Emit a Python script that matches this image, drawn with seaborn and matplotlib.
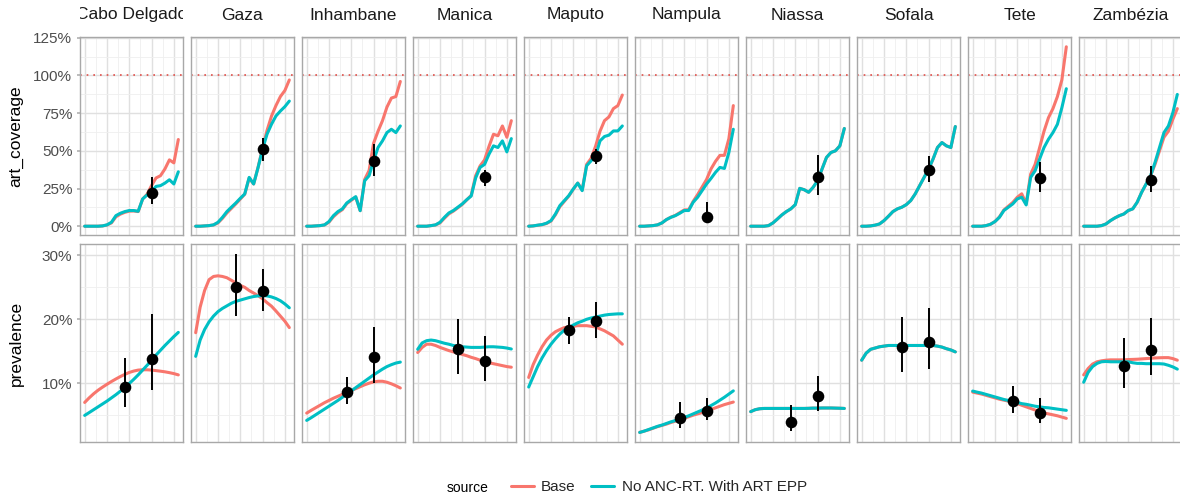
import matplotlib
matplotlib.use("Agg")
import matplotlib.pyplot as plt
import pandas as pd
import seaborn as sns
from matplotlib.lines import Line2D
from matplotlib.ticker import FuncFormatter, MultipleLocator
from matplotlib.transforms import Bbox, TransformedBbox

# Anos e províncias
years = [2000, 2001, 2002, 2003, 2004, 2005, 2006, 2007, 2008, 2009, 2010,
         2011, 2012, 2013, 2014, 2015, 2016, 2017, 2018, 2019, 2020, 2021]
provinces = ['Cabo Delgado', 'Gaza', 'Inhambane', 'Manica', 'Maputo',
             'Nampula', 'Niassa', 'Sofala', 'Tete', 'Zambézia']
sources = ['Base', 'No ANC-RT. With ART EPP']

# art_coverage (%)
cabo_art_base = [0, 0, 0, 0, 0.2, 0.8, 2.2, 6.2, 8.0, 9.2, 10.0, 10.1, 9.7, 18.0, 21.2, 27.0, 32.0, 33.5, 38.0, 44.0, 42.0, 57.5]
cabo_art_alt = [0, 0, 0, 0, 0.2, 0.9, 2.6, 7.0, 8.6, 9.7, 10.4, 10.4, 9.9, 18.1, 20.7, 22.9, 26.4, 26.9, 28.6, 30.8, 28.0, 36.1]
gaza_art_base = [0, 0, 0.2, 0.4, 0.8, 2.2, 5.2, 8.8, 11.8, 14.8, 18.0, 21.2, 32.0, 28.0, 39.2, 51.8, 63.5, 73.0, 80.0, 86.0, 90.0, 97.0]
gaza_art_alt = [0, 0, 0.2, 0.4, 0.9, 2.6, 5.9, 9.7, 12.6, 15.4, 18.5, 21.4, 32.4, 28.0, 39.0, 51.1, 61.0, 67.6, 73.1, 76.4, 79.3, 83.0]
inha_art_base = [0, 0, 0.2, 0.4, 0.8, 2.7, 6.3, 9.0, 11.0, 15.0, 17.2, 19.3, 10.3, 31.0, 37.0, 55.0, 63.0, 70.0, 79.0, 85.0, 86.0, 96.0]
inha_art_alt = [0, 0, 0.2, 0.4, 0.9, 3.1, 7.0, 9.7, 11.5, 15.4, 17.6, 19.6, 10.3, 30.1, 33.5, 43.4, 52.2, 56.6, 62.1, 64.3, 62.1, 66.5]
mani_art_base = [0, 0, 0, 0.4, 0.8, 2.2, 5.3, 8.2, 10.0, 12.2, 14.5, 17.4, 20.5, 33.5, 40.0, 44.0, 53.0, 61.0, 60.0, 66.5, 59.0, 70.0]
mani_art_alt = [0, 0, 0, 0.4, 0.9, 2.6, 5.9, 8.8, 10.4, 12.6, 14.8, 17.6, 20.0, 32.0, 39.0, 41.0, 47.8, 53.3, 52.2, 56.6, 49.3, 58.1]
mapu_art_base = [0, 0.2, 0.6, 1.0, 1.8, 3.4, 7.6, 13.0, 16.5, 20.0, 24.5, 28.6, 24.0, 41.0, 45.0, 53.0, 63.0, 70.0, 72.5, 78.0, 80.0, 87.0]
mapu_art_alt = [0, 0.2, 0.7, 1.1, 2.0, 3.7, 8.1, 13.7, 17.0, 20.3, 24.7, 28.6, 23.6, 40.1, 43.4, 46.7, 56.6, 59.5, 60.4, 63.2, 63.2, 66.5]
namp_art_base = [0, 0, 0.2, 0.4, 0.9, 2.2, 4.4, 6.0, 7.2, 9.0, 10.8, 11.0, 16.5, 21.0, 26.0, 31.0, 38.0, 43.0, 47.0, 47.0, 58.0, 80.0]
namp_art_alt = [0, 0, 0.2, 0.4, 0.9, 2.2, 4.4, 5.9, 7.0, 8.6, 10.4, 10.4, 15.9, 19.2, 23.6, 28.0, 31.7, 35.7, 39.0, 38.3, 48.9, 64.3]
nias_art_base = [0, 0, 0, 0, 0.4, 2.2, 4.8, 7.5, 9.7, 11.5, 14.3, 25.1, 24.2, 22.5, 25.8, 30.2, 37.9, 45.6, 48.9, 50.0, 53.3, 64.8]
nias_art_alt = [0, 0, 0, 0, 0.4, 2.2, 4.8, 7.5, 9.7, 11.5, 14.3, 25.1, 24.2, 22.5, 25.8, 30.2, 37.9, 45.6, 48.9, 50.0, 53.3, 64.8]
sofa_art_base = [0, 0, 0.2, 0.7, 1.5, 3.7, 6.6, 9.7, 11.5, 12.6, 14.3, 17.0, 21.4, 26.9, 32.4, 37.9, 44.5, 52.2, 55.5, 53.3, 52.2, 66.1]
sofa_art_alt = [0, 0, 0.2, 0.7, 1.5, 3.7, 6.6, 9.7, 11.5, 12.6, 14.3, 17.0, 21.4, 26.9, 32.4, 37.9, 44.5, 52.2, 55.5, 53.3, 52.2, 66.1]
tete_art_base = [0, 0, 0, 0.4, 1.3, 3.1, 6.2, 10.8, 13.3, 15.8, 19.2, 21.5, 15.0, 34.5, 41.0, 52.0, 63.0, 72.0, 78.0, 86.0, 97.0, 119.0]
tete_art_alt = [0, 0, 0, 0.4, 1.3, 3.1, 5.9, 10.4, 12.6, 14.8, 18.1, 19.2, 14.1, 32.4, 36.8, 44.5, 52.2, 57.7, 62.1, 67.6, 78.6, 91.2]
zamb_art_base = [0, 0, 0, 0, 0.4, 1.5, 3.7, 5.5, 7.0, 8.1, 10.4, 11.5, 15.9, 22.5, 28.0, 33.5, 41.0, 50.0, 59.0, 63.0, 71.0, 78.0]
zamb_art_alt = [0, 0, 0, 0, 0.4, 1.5, 3.7, 5.5, 7.0, 8.1, 10.4, 11.5, 15.9, 22.5, 28.0, 33.5, 42.3, 52.2, 62.1, 66.5, 75.3, 87.4]

# prevalence (%)
cabo_prev_base = [6.99, 7.7, 8.34, 8.9, 9.38, 9.83, 10.26, 10.66, 11.04, 11.38, 11.68, 11.9, 12.05, 12.1, 12.1, 12.05, 11.97, 11.88, 11.78, 11.65, 11.5, 11.3]
cabo_prev_alt = [4.96, 5.4, 5.85, 6.3, 6.75, 7.2, 7.7, 8.2, 8.75, 9.3, 9.95, 10.6, 11.3, 12.05, 12.8, 13.6, 14.4, 15.15, 15.9, 16.6, 17.3, 17.95]
gaza_prev_base = [17.9, 21.9, 24.5, 26.2, 26.7, 26.8, 26.7, 26.5, 26.1, 25.7, 25.3, 25.0, 24.5, 24.1, 23.7, 23.2, 22.6, 22.05, 21.3, 20.5, 19.7, 18.7]
gaza_prev_alt = [14.2, 16.75, 18.4, 19.6, 20.5, 21.2, 21.7, 22.1, 22.5, 22.8, 23.0, 23.2, 23.4, 23.56, 23.66, 23.7, 23.66, 23.5, 23.25, 22.9, 22.4, 21.8]
inha_prev_base = [5.32, 5.75, 6.15, 6.55, 6.95, 7.3, 7.65, 7.95, 8.25, 8.55, 8.85, 9.15, 9.45, 9.75, 10.0, 10.2, 10.3, 10.3, 10.15, 9.9, 9.6, 9.25]
inha_prev_alt = [4.18, 4.6, 5.05, 5.5, 5.95, 6.4, 6.85, 7.3, 7.8, 8.3, 8.8, 9.3, 9.8, 10.3, 10.8, 11.3, 11.75, 12.2, 12.6, 12.9, 13.15, 13.3]
mani_prev_base = [14.8, 15.6, 16.1, 16.1, 15.9, 15.6, 15.35, 15.1, 14.9, 14.7, 14.5, 14.3, 14.05, 13.85, 13.6, 13.4, 13.2, 13.05, 12.9, 12.75, 12.6, 12.5]
mani_prev_alt = [15.3, 16.3, 16.65, 16.75, 16.65, 16.45, 16.25, 16.1, 15.9, 15.8, 15.7, 15.65, 15.6, 15.6, 15.6, 15.65, 15.7, 15.7, 15.65, 15.6, 15.5, 15.35]
mapu_prev_base = [10.9, 12.9, 14.4, 15.7, 16.75, 17.5, 18.05, 18.4, 18.7, 18.8, 18.9, 19.0, 19.0, 19.0, 18.9, 18.8, 18.5, 18.2, 17.8, 17.4, 16.75, 16.1]
mapu_prev_alt = [9.4, 11.0, 12.6, 13.95, 15.1, 16.1, 16.95, 17.7, 18.3, 18.7, 19.1, 19.45, 19.7, 20.0, 20.2, 20.35, 20.5, 20.65, 20.75, 20.8, 20.85, 20.85]
namp_prev_base = [2.3, 2.5, 2.7, 2.95, 3.2, 3.4, 3.6, 3.85, 4.05, 4.3, 4.5, 4.75, 5.0, 5.2, 5.4, 5.65, 5.9, 6.15, 6.4, 6.65, 6.85, 7.05]
namp_prev_alt = [2.3, 2.5, 2.75, 3.0, 3.25, 3.45, 3.7, 3.95, 4.15, 4.4, 4.65, 4.9, 5.2, 5.5, 5.8, 6.1, 6.5, 6.9, 7.35, 7.8, 8.3, 8.8]
nias_prev_base = [5.55, 5.85, 6.0, 6.05, 6.05, 6.05, 6.05, 6.05, 6.05, 6.05, 6.05, 6.05, 6.05, 6.07, 6.1, 6.1, 6.12, 6.12, 6.12, 6.1, 6.08, 6.05]
nias_prev_alt = [5.55, 5.85, 6.0, 6.05, 6.05, 6.05, 6.05, 6.05, 6.05, 6.05, 6.05, 6.05, 6.05, 6.07, 6.1, 6.1, 6.12, 6.12, 6.12, 6.1, 6.08, 6.05]
sofa_prev_base = [13.6, 14.7, 15.3, 15.5, 15.7, 15.8, 15.9, 15.9, 15.9, 15.9, 15.9, 15.9, 15.9, 15.9, 15.9, 15.9, 15.9, 15.8, 15.65, 15.4, 15.2, 14.9]
sofa_prev_alt = [13.6, 14.7, 15.3, 15.5, 15.7, 15.8, 15.9, 15.9, 15.9, 15.9, 15.9, 15.9, 15.9, 15.9, 15.9, 15.9, 15.9, 15.8, 15.65, 15.4, 15.2, 14.9]
tete_prev_base = [8.6, 8.45, 8.3, 8.1, 7.9, 7.7, 7.5, 7.35, 7.2, 7.0, 6.8, 6.55, 6.3, 6.05, 5.8, 5.55, 5.35, 5.2, 5.05, 4.9, 4.7, 4.5]
tete_prev_alt = [8.77, 8.6, 8.45, 8.25, 8.05, 7.85, 7.65, 7.45, 7.3, 7.2, 7.0, 6.8, 6.7, 6.55, 6.4, 6.3, 6.2, 6.15, 6.05, 5.95, 5.85, 5.75]
zamb_prev_base = [11.3, 12.3, 13.0, 13.35, 13.5, 13.6, 13.65, 13.65, 13.65, 13.65, 13.7, 13.72, 13.75, 13.8, 13.85, 13.9, 13.95, 13.98, 14.0, 14.0, 13.85, 13.6]
zamb_prev_alt = [10.15, 11.7, 12.6, 13.1, 13.35, 13.4, 13.35, 13.35, 13.35, 13.35, 13.35, 13.2, 13.1, 13.1, 13.05, 13.05, 13.05, 13.05, 13.0, 12.8, 12.55, 12.2]

# Pontos de inquérito (%)
art_survey_year = 2015
art_survey_mid = [22.0, 51.5, 43.0, 32.6, 46.7, 5.9, 32.4, 37.4, 31.7, 30.8]
art_survey_lo = [14.8, 43.4, 33.0, 27.0, 41.0, 3.1, 20.7, 29.1, 22.5, 22.5]
art_survey_hi = [32.4, 58.8, 54.4, 37.0, 51.0, 16.3, 47.1, 46.3, 42.7, 40.0]
prev_2009_mid = [9.38, 25.06, 8.6, 15.3, 18.3, 4.55, 3.95, 15.6, 7.2, 12.7]
prev_2009_lo = [6.26, 20.5, 6.8, 11.45, 16.2, 3.0, 2.46, 11.8, 5.3, 9.3]
prev_2009_hi = [13.9, 30.26, 10.9, 20.1, 20.4, 7.0, 6.56, 20.3, 9.55, 17.1]
prev_2015_mid = [13.8, 24.5, 14.05, 13.5, 19.8, 5.7, 7.95, 16.4, 5.4, 15.2]
prev_2015_lo = [8.86, 21.3, 10.0, 10.35, 17.0, 4.3, 5.6, 12.2, 3.75, 11.3]
prev_2015_hi = [20.8, 27.9, 18.8, 17.4, 22.7, 7.7, 11.2, 21.7, 7.7, 20.15]

art_base = [cabo_art_base, gaza_art_base, inha_art_base, mani_art_base, mapu_art_base,
            namp_art_base, nias_art_base, sofa_art_base, tete_art_base, zamb_art_base]
art_alt = [cabo_art_alt, gaza_art_alt, inha_art_alt, mani_art_alt, mapu_art_alt,
           namp_art_alt, nias_art_alt, sofa_art_alt, tete_art_alt, zamb_art_alt]
prev_base = [cabo_prev_base, gaza_prev_base, inha_prev_base, mani_prev_base, mapu_prev_base,
             namp_prev_base, nias_prev_base, sofa_prev_base, tete_prev_base, zamb_prev_base]
prev_alt = [cabo_prev_alt, gaza_prev_alt, inha_prev_alt, mani_prev_alt, mapu_prev_alt,
            namp_prev_alt, nias_prev_alt, sofa_prev_alt, tete_prev_alt, zamb_prev_alt]

# Tabela longa
linhas = []
for i, prov in enumerate(provinces):
    for ind, b_list, a_list in [('art_coverage', art_base[i], art_alt[i]),
                                ('prevalence', prev_base[i], prev_alt[i])]:
        for yr, b, a in zip(years, b_list, a_list):
            linhas.append((prov, ind, sources[0], yr, b))
            linhas.append((prov, ind, sources[1], yr, a))
base = pd.DataFrame(linhas, columns=['province', 'indicator', 'source', 'year', 'value'])

red = '#F8766D'
teal = '#00BFC4'

sns.set_theme(style='white')
plt.rcParams['font.family'] = ['Liberation Sans', 'DejaVu Sans']

fig, axes = plt.subplots(2, 10, figsize=(11.8, 4.95), dpi=100, sharex=True, sharey='row')
fig.subplots_adjust(left=80 / 1180, right=1182 / 1180, top=1 - 37 / 495, bottom=1 - 442 / 495,
                    wspace=0.0777, hspace=0.0506)

pct = FuncFormatter(lambda v, p: f'{v:.0f}%')

for r, ind in enumerate(['art_coverage', 'prevalence']):
    for c, prov in enumerate(provinces):
        ax = axes[r, c]
        d = base[(base['province'] == prov) & (base['indicator'] == ind)]
        ax.set_axisbelow(True)
        if r == 0:
            ax.axhline(100, color='#E0504A', lw=1.2, ls=(0, (1, 3)), zorder=1)
        sns.lineplot(data=d, x='year', y='value', hue='source', hue_order=sources,
                     palette=[red, teal], linewidth=2.2, legend=False, errorbar=None,
                     ax=ax, zorder=3)
        if r == 0:
            xs = [art_survey_year]
            mid = [art_survey_mid[c]]
            lo = [art_survey_lo[c]]
            hi = [art_survey_hi[c]]
        else:
            xs = [2009, 2015]
            mid = [prev_2009_mid[c], prev_2015_mid[c]]
            lo = [prev_2009_lo[c], prev_2015_lo[c]]
            hi = [prev_2009_hi[c], prev_2015_hi[c]]
        ax.vlines(xs, lo, hi, color='black', lw=1.4, zorder=4)
        sns.scatterplot(x=xs, y=mid, color='black', s=70, edgecolor='black', linewidth=0,
                        ax=ax, zorder=5)

        ax.set_xlim(1998.95, 2022.05)
        ax.xaxis.set_major_locator(MultipleLocator(5))
        ax.xaxis.set_minor_locator(MultipleLocator(2.5))
        if r == 0:
            ax.set_ylim(-5.5, 125.5)
            ax.yaxis.set_major_locator(MultipleLocator(25))
            ax.yaxis.set_minor_locator(MultipleLocator(12.5))
        else:
            ax.set_ylim(0.8, 31.7)
            ax.yaxis.set_major_locator(MultipleLocator(10))
            ax.yaxis.set_minor_locator(MultipleLocator(5))
        ax.yaxis.set_major_formatter(pct)
        ax.grid(which='major', color='#E0E0E0', lw=1.0)
        ax.grid(which='minor', color='#EFEFEF', lw=0.6)
        for s in ax.spines.values():
            s.set_color('#A8A8A8')
            s.set_linewidth(1.0)
        ax.set_xlabel('')
        ax.set_ylabel('')
        ax.tick_params(axis='x', which='both', length=0, labelbottom=False)
        ax.tick_params(axis='y', which='major', length=2.5, color='#B3B3B3', pad=3,
                       labelsize=11, labelcolor='#4D4D4D', left=(c == 0))
        ax.tick_params(axis='y', which='minor', length=0)

# Títulos das faixas (cortados à largura do painel)
for ax, name in zip(axes[0], provinces):
    pos = ax.get_position()
    t = fig.text((pos.x0 + pos.x1) / 2, 1 - 15 / 495, name, ha='center', va='center',
                 fontsize=12.5, color='#1A1A1A')
    t.set_clip_on(True)
    t.set_clip_box(TransformedBbox(Bbox.from_extents(pos.x0, pos.y1, pos.x1, 1.0),
                                   fig.transFigure))

fig.text(16 / 1180, 1 - 136 / 495, 'art_coverage', rotation=90, ha='center', va='center',
         fontsize=12.5, color='black')
fig.text(16 / 1180, 1 - 343 / 495, 'prevalence', rotation=90, ha='center', va='center',
         fontsize=12.5, color='black')

# Legenda
handles = [Line2D([], [], color=red, lw=2.2), Line2D([], [], color=teal, lw=2.2)]
fig.text(447 / 1180, 1 - 488 / 495, 'source', ha='left', va='center', fontsize=10, color='black')
fig.legend(handles, sources, loc='center left', bbox_to_anchor=(500 / 1180, 1 - 487 / 495),
           ncol=2, frameon=False, fontsize=11, handlelength=1.5, handletextpad=0.5,
           columnspacing=1.0, borderpad=0.2)

fig.savefig('out.png', dpi=100)
